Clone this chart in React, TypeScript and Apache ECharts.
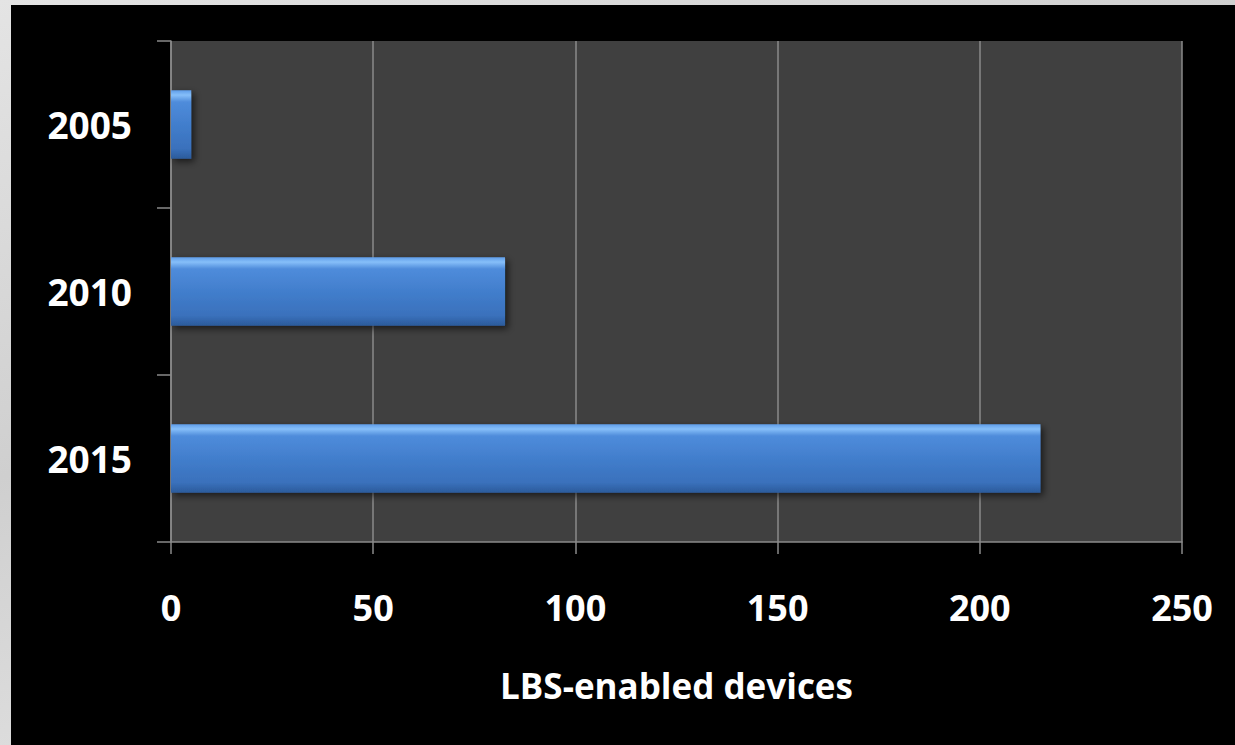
import React, { useEffect, useRef } from "react";
import * as echarts from "echarts";

const categories = ["2005", "2010", "2015"];
const deviceValues = [5, 82.6, 215];
const xTicks = { min: 0, max: 250, interval: 50 };
const axisTitle = "LBS-enabled devices";

const FONT = "'Open Sans', 'DejaVu Sans', sans-serif";
const GRID_GRAY = "#8a8a8a";

export default function App() {
  const ref = useRef<HTMLDivElement>(null);

  useEffect(() => {
    document.body.style.margin = "0";
    if (!ref.current) return;
    const chart = echarts.init(ref.current, null, { renderer: "svg" });
    chart.setOption({
      animation: false,
      backgroundColor: "#000000",
      grid: {
        left: 160,
        right: 53,
        top: 36,
        bottom: 203,
        show: true,
        backgroundColor: "#404040",
        borderWidth: 0,
      },
      xAxis: {
        type: "value",
        min: xTicks.min,
        max: xTicks.max,
        interval: xTicks.interval,
        name: axisTitle,
        nameLocation: "middle",
        nameGap: 126,
        nameTextStyle: {
          color: "#ffffff",
          fontSize: 35,
          fontWeight: "bold",
          fontFamily: FONT,
        },
        axisLine: { show: true, lineStyle: { color: GRID_GRAY, width: 1.5 } },
        axisTick: { show: true, length: 12, lineStyle: { color: GRID_GRAY, width: 1.5 } },
        splitLine: { show: true, lineStyle: { color: GRID_GRAY, width: 1.5 } },
        axisLabel: {
          color: "#ffffff",
          fontSize: 36,
          fontWeight: "bold",
          fontFamily: FONT,
          margin: 47,
        },
      },
      yAxis: {
        type: "category",
        data: categories,
        inverse: true,
        axisLine: { show: true, lineStyle: { color: GRID_GRAY, width: 1.5 } },
        axisTick: { show: true, length: 14, lineStyle: { color: GRID_GRAY, width: 1.5 } },
        splitLine: { show: false },
        axisLabel: {
          color: "#ffffff",
          fontSize: 37,
          fontWeight: "bold",
          fontFamily: FONT,
          margin: 39,
        },
      },
      series: [
        {
          type: "bar",
          data: deviceValues,
          barWidth: "41%",
          itemStyle: {
            color: new echarts.graphic.LinearGradient(0, 0, 0, 1, [
              { offset: 0, color: "#5f9de9" },
              { offset: 0.07, color: "#86bff9" },
              { offset: 0.17, color: "#4f8cdb" },
              { offset: 0.55, color: "#407cca" },
              { offset: 0.85, color: "#3a71bc" },
              { offset: 1, color: "#2b5b9b" },
            ]),
            shadowColor: "rgba(0,0,0,0.6)",
            shadowBlur: 7,
            shadowOffsetX: 3,
            shadowOffsetY: 3,
          },
        },
      ],
    });
    return () => chart.dispose();
  }, []);

  return (
    <div
      style={{
        position: "relative",
        width: 1235,
        height: 745,
        background: "linear-gradient(160deg, #e4e4e4, #cfcfcf 40%, #e0e0e0 70%, #d2d2d2)",
        overflow: "hidden",
      }}
    >
      <div
        ref={ref}
        style={{ position: "absolute", left: 11, top: 5, width: 1224, height: 740 }}
      />
    </div>
  );
}
